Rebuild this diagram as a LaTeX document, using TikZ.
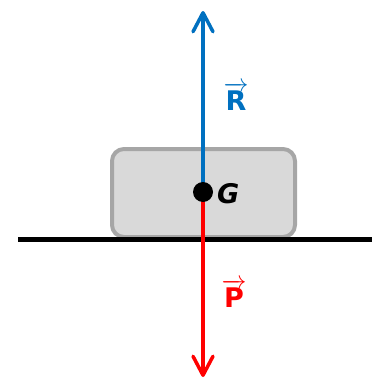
\documentclass[tikz,border=0pt]{standalone}
\usepackage{fontspec}
\setsansfont{DejaVu Sans}
\usepackage{tikz}
\usetikzlibrary{arrows.meta}
\definecolor{rblue}{RGB}{0,112,192}
\definecolor{pred}{RGB}{255,0,0}
\definecolor{blockfill}{RGB}{217,217,217}
\definecolor{blockline}{RGB}{166,166,166}

\begin{document}
\begin{tikzpicture}[
  x=1pt, y=-1pt,
  ground/.style={line width=5pt},
  block/.style={draw=blockline, fill=blockfill, line width=4pt, rounded corners=12pt},
  force/.style={line width=3.5pt, line cap=round, -{Straight Barb[length=19pt,width=20pt,round]}},
  flabel/.style={font=\fontsize{27}{29}\selectfont\sffamily\bfseries, inner sep=0pt}
]
\useasboundingbox (0,0) rectangle (380,380);
\draw[block] (112,149) rectangle (295,237);
\draw[ground] (18,239) -- (372,239);

\coordinate (G) at (203,192);
\coordinate (Rtip) at (203,11);
\coordinate (Ptip) at (203,377);
\draw[force, rblue] (G) -- (Rtip);
\draw[force, pred] (G) -- (Ptip);
\fill (G) circle (10pt);

\node[font=\fontsize{27}{29}\selectfont\sffamily\bfseries\itshape, anchor=west, inner sep=0pt] (Glabel) at (217,194) {G};
\node[flabel, text=rblue, anchor=base] (Rlabel) at (236,110) {$\overrightarrow{\hbox{\sffamily\bfseries R}}$};
\node[flabel, text=pred, anchor=base] (Plabel) at (234,307) {$\overrightarrow{\hbox{\sffamily\bfseries P}}$};
\end{tikzpicture}
\end{document}
